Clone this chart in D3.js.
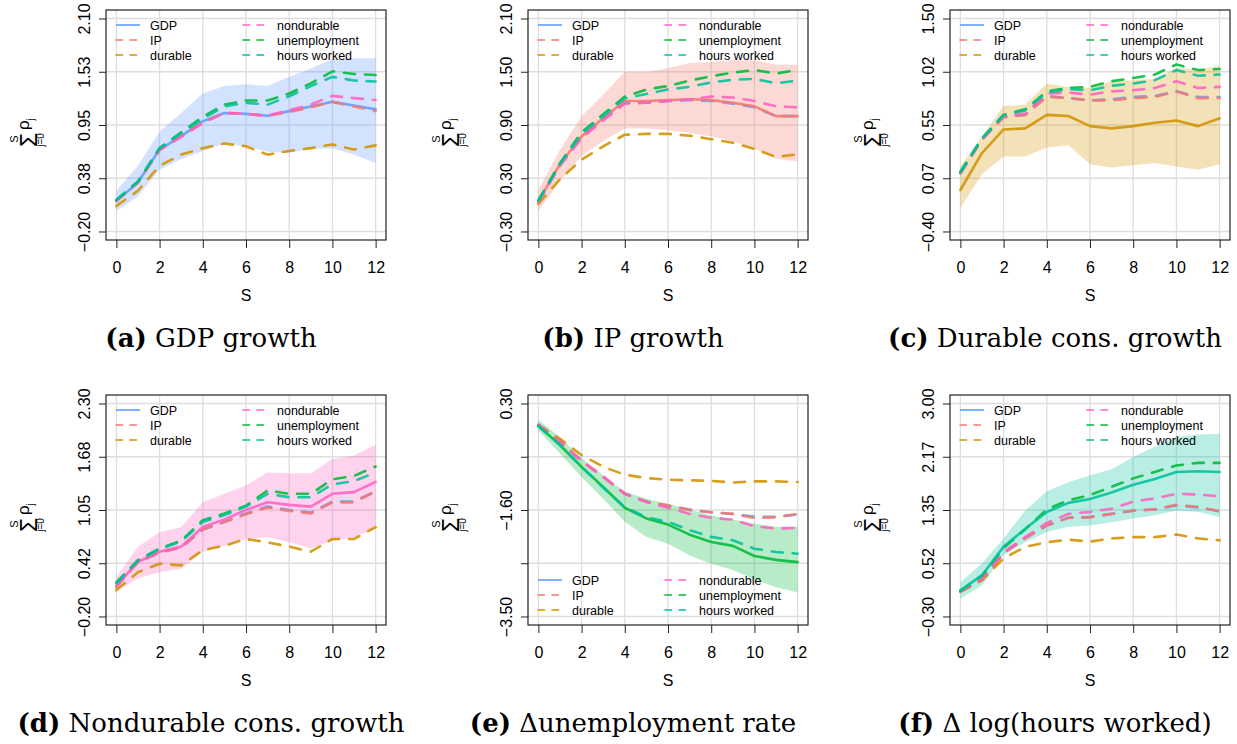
<!DOCTYPE html>
<meta charset="utf-8">
<style>
    body { margin: 0; background: #fff; }
    svg text { font-family: "Liberation Sans", Arial, sans-serif; fill: #000; }
    .caption { font-family: "DejaVu Serif", serif; font-size: 26px; }
    .tick line { stroke: #222; }
</style>
<body>
<script src="https://d3js.org/d3.v7.min.js"></script>
<script>
    // horizon s, shared by every panel
    const steps = [0, 1, 2, 3, 4, 5, 6, 7, 8, 9, 10, 11, 12]
    const xTicks = [0, 2, 4, 6, 8, 10, 12]

    const seriesNames = ["GDP", "IP", "durable", "nondurable", "unemployment", "hours worked"]
    const seriesColors = ["#619CFF", "#F8766D", "#D39200", "#FF61C3", "#00BA38", "#00C19A"]

    const panelLetters = ["a", "b", "c", "d", "e", "f"]
    const panelTitles = ["GDP growth", "IP growth", "Durable cons. growth",
        "Nondurable cons. growth", "\u0394unemployment rate", "\u0394 log(hours worked)"]

    const yTickValues = [
        [-0.20, 0.375, 0.95, 1.525, 2.10],
        [-0.30, 0.30, 0.90, 1.50, 2.10],
        [-0.40, 0.075, 0.55, 1.025, 1.50],
        [-0.20, 0.425, 1.05, 1.675, 2.30],
        [-3.50, -2.55, -1.60, -0.65, 0.30],
        [-0.30, 0.525, 1.35, 2.175, 3.00]
    ]
    const yTickLabels = [
        ["\u22120.20", "0.38", "0.95", "1.53", "2.10"],
        ["\u22120.30", "0.30", "0.90", "1.50", "2.10"],
        ["\u22120.40", "0.07", "0.55", "1.02", "1.50"],
        ["\u22120.20", "0.42", "1.05", "1.68", "2.30"],
        ["\u22123.50", "", "\u22121.60", "", "0.30"],
        ["\u22120.30", "0.52", "1.35", "2.17", "3.00"]
    ]

    // each panel: rows in seriesNames order
    const gdpLines = [
        [0.13, 0.33, 0.685, 0.83, 0.99, 1.08, 1.07, 1.05, 1.10, 1.15, 1.20, 1.16, 1.12],
        [0.13, 0.33, 0.68, 0.83, 0.98, 1.08, 1.07, 1.05, 1.09, 1.14, 1.20, 1.15, 1.10],
        [0.075, 0.24, 0.51, 0.63, 0.70, 0.75, 0.72, 0.63, 0.67, 0.70, 0.74, 0.685, 0.73],
        [0.13, 0.33, 0.68, 0.82, 0.97, 1.08, 1.07, 1.05, 1.11, 1.17, 1.265, 1.24, 1.22],
        [0.14, 0.34, 0.70, 0.87, 1.04, 1.17, 1.215, 1.215, 1.29, 1.40, 1.53, 1.50, 1.49],
        [0.14, 0.34, 0.70, 0.86, 1.02, 1.15, 1.19, 1.17, 1.26, 1.37, 1.47, 1.43, 1.42]
    ]
    const gdpHi = [0.24, 0.51, 0.88, 1.08, 1.29, 1.37, 1.39, 1.37, 1.47, 1.56, 1.66, 1.67, 1.67]
    const gdpLo = [0.02, 0.18, 0.47, 0.58, 0.67, 0.75, 0.72, 0.66, 0.65, 0.69, 0.70, 0.63, 0.54]

    const ipLines = [
        [0.04, 0.45, 0.76, 0.97, 1.15, 1.15, 1.17, 1.18, 1.17, 1.14, 1.10, 1.00, 1.00],
        [0.04, 0.46, 0.77, 0.98, 1.17, 1.17, 1.18, 1.19, 1.18, 1.15, 1.11, 1.00, 1.00],
        [0.01, 0.29, 0.51, 0.66, 0.79, 0.80, 0.80, 0.78, 0.74, 0.70, 0.63, 0.54, 0.57],
        [0.03, 0.44, 0.75, 0.95, 1.14, 1.15, 1.17, 1.19, 1.22, 1.21, 1.17, 1.11, 1.10],
        [0.05, 0.47, 0.82, 1.02, 1.22, 1.30, 1.34, 1.40, 1.45, 1.49, 1.52, 1.48, 1.52],
        [0.05, 0.46, 0.80, 1.00, 1.20, 1.25, 1.30, 1.33, 1.38, 1.41, 1.42, 1.37, 1.40]
    ]
    const ipHi = [0.17, 0.62, 1.00, 1.24, 1.50, 1.50, 1.54, 1.60, 1.61, 1.63, 1.63, 1.58, 1.58]
    const ipLo = [-0.07, 0.27, 0.55, 0.72, 0.86, 0.86, 0.84, 0.81, 0.77, 0.72, 0.63, 0.52, 0.49]

    const durLines = [
        [0.12, 0.42, 0.62, 0.64, 0.81, 0.79, 0.77, 0.78, 0.80, 0.81, 0.85, 0.80, 0.80],
        [0.12, 0.42, 0.62, 0.64, 0.80, 0.79, 0.77, 0.77, 0.79, 0.80, 0.85, 0.79, 0.79],
        [-0.03, 0.30, 0.51, 0.52, 0.64, 0.63, 0.54, 0.52, 0.54, 0.57, 0.59, 0.54, 0.61],
        [0.12, 0.42, 0.63, 0.65, 0.83, 0.84, 0.82, 0.85, 0.86, 0.88, 0.94, 0.88, 0.89],
        [0.13, 0.43, 0.64, 0.69, 0.85, 0.88, 0.89, 0.94, 0.97, 1.00, 1.09, 1.04, 1.05],
        [0.13, 0.43, 0.64, 0.68, 0.84, 0.87, 0.86, 0.90, 0.92, 0.95, 1.04, 0.99, 1.00]
    ]
    const durHi = [0.18, 0.45, 0.72, 0.73, 0.92, 0.89, 0.88, 0.94, 0.95, 0.96, 1.06, 1.04, 1.08]
    const durLo = [-0.19, 0.11, 0.27, 0.27, 0.35, 0.37, 0.20, 0.17, 0.19, 0.21, 0.18, 0.15, 0.20]

    const nondurLines = [
        [0.15, 0.44, 0.55, 0.61, 0.82, 0.91, 1.01, 1.09, 1.05, 1.02, 1.15, 1.15, 1.27],
        [0.15, 0.44, 0.55, 0.61, 0.82, 0.91, 1.00, 1.08, 1.04, 1.01, 1.14, 1.14, 1.27],
        [0.11, 0.32, 0.42, 0.40, 0.58, 0.63, 0.71, 0.67, 0.62, 0.56, 0.71, 0.71, 0.85],
        [0.16, 0.44, 0.56, 0.62, 0.85, 0.94, 1.05, 1.14, 1.11, 1.09, 1.24, 1.26, 1.38],
        [0.20, 0.46, 0.60, 0.69, 0.93, 1.01, 1.10, 1.28, 1.24, 1.24, 1.41, 1.45, 1.56],
        [0.19, 0.46, 0.59, 0.68, 0.91, 0.99, 1.09, 1.24, 1.20, 1.20, 1.35, 1.39, 1.49]
    ]
    const nondurHi = [0.26, 0.62, 0.79, 0.85, 1.14, 1.24, 1.34, 1.49, 1.48, 1.48, 1.65, 1.69, 1.82]
    const nondurLo = [0.09, 0.25, 0.32, 0.36, 0.56, 0.63, 0.71, 0.73, 0.67, 0.60, 0.69, 0.73, 0.83]

    const unempLines = [
        [-0.08, -0.38, -0.73, -1.01, -1.31, -1.45, -1.52, -1.59, -1.64, -1.67, -1.72, -1.72, -1.68],
        [-0.08, -0.38, -0.73, -1.01, -1.31, -1.45, -1.52, -1.60, -1.64, -1.67, -1.74, -1.73, -1.67],
        [-0.08, -0.33, -0.62, -0.83, -0.97, -1.03, -1.06, -1.07, -1.08, -1.11, -1.09, -1.09, -1.10],
        [-0.08, -0.38, -0.72, -1.00, -1.31, -1.46, -1.56, -1.67, -1.74, -1.77, -1.89, -1.93, -1.92],
        [-0.10, -0.44, -0.83, -1.19, -1.56, -1.75, -1.86, -2.04, -2.17, -2.24, -2.42, -2.49, -2.53],
        [-0.10, -0.44, -0.83, -1.20, -1.55, -1.73, -1.81, -1.96, -2.08, -2.14, -2.29, -2.35, -2.38]
    ]
    const unempHi = [0.01, -0.30, -0.67, -0.98, -1.27, -1.40, -1.49, -1.59, -1.70, -1.77, -1.84, -1.90, -1.90]
    const unempLo = [-0.18, -0.59, -1.01, -1.40, -1.81, -2.08, -2.20, -2.41, -2.56, -2.67, -2.84, -2.98, -3.07]

    const hoursLines = [
        [0.09, 0.27, 0.68, 0.91, 1.11, 1.23, 1.24, 1.29, 1.34, 1.36, 1.42, 1.39, 1.33],
        [0.09, 0.27, 0.68, 0.91, 1.11, 1.23, 1.24, 1.29, 1.34, 1.36, 1.43, 1.40, 1.33],
        [0.08, 0.26, 0.60, 0.78, 0.85, 0.89, 0.86, 0.91, 0.93, 0.93, 0.97, 0.91, 0.88],
        [0.09, 0.28, 0.70, 0.93, 1.15, 1.29, 1.32, 1.37, 1.48, 1.53, 1.60, 1.59, 1.56],
        [0.10, 0.33, 0.76, 1.05, 1.36, 1.50, 1.58, 1.71, 1.84, 1.94, 2.04, 2.08, 2.08],
        [0.10, 0.34, 0.78, 1.06, 1.32, 1.46, 1.52, 1.62, 1.74, 1.83, 1.94, 1.95, 1.94]
    ]
    const hoursHi = [0.23, 0.52, 0.91, 1.34, 1.64, 1.78, 1.89, 1.98, 2.17, 2.33, 2.48, 2.52, 2.53]
    const hoursLo = [-0.02, 0.18, 0.65, 0.85, 1.01, 1.09, 1.11, 1.16, 1.22, 1.27, 1.34, 1.32, 1.24]

    const panelLines = [gdpLines, ipLines, durLines, nondurLines, unempLines, hoursLines]
    const panelHi = [gdpHi, ipHi, durHi, nondurHi, unempHi, hoursHi]
    const panelLo = [gdpLo, ipLo, durLo, nondurLo, unempLo, hoursLo]

    const width = 1237, height = 744
    const colStep = 422, rowStep = 385
    const box = {left: 106, right: 386, top: 10, bottom: 240}

    const svg = d3.select("body").append("svg")
        .attr("width", width)
        .attr("height", height)

    const x = d3.scaleLinear()
        .domain([-0.48, 12.48])
        .range([box.left, box.right])

    panelTitles.forEach((title, p) => {
        const col = p % 3, row = Math.floor(p / 3)
        const g = svg.append("g")
            .attr("transform", `translate(${col * colStep},${row * rowStep})`)

        const ticks = yTickValues[p]
        const lo = ticks[0], hi = ticks[ticks.length - 1], pad = (hi - lo) * 0.04
        const y = d3.scaleLinear()
            .domain([lo - pad, hi + pad])
            .range([box.bottom, box.top])

        // grid
        g.selectAll(".hgrid").data(ticks).enter().append("line")
            .attr("x1", box.left).attr("x2", box.right)
            .attr("y1", d => y(d)).attr("y2", d => y(d))
            .attr("stroke", "#dedede").attr("stroke-width", 1.3)
        g.selectAll(".vgrid").data(xTicks).enter().append("line")
            .attr("x1", d => x(d)).attr("x2", d => x(d))
            .attr("y1", box.top).attr("y2", box.bottom)
            .attr("stroke", "#dedede").attr("stroke-width", 1.3)

        // confidence band around the own series
        const band = d3.area()
            .x((d, i) => x(steps[i]))
            .y0((d, i) => y(panelLo[p][i]))
            .y1(d => y(d))
        g.append("path")
            .datum(panelHi[p])
            .attr("d", band)
            .attr("fill", seriesColors[p])
            .attr("fill-opacity", 0.28)

        const line = d3.line()
            .x((d, i) => x(steps[i]))
            .y(d => y(d))

        panelLines[p].forEach((vals, k) => {
            g.append("path")
                .datum(vals)
                .attr("d", line)
                .attr("fill", "none")
                .attr("stroke", seriesColors[k])
                .attr("stroke-width", 2.6)
                .attr("stroke-opacity", 0.88)
                .attr("stroke-linecap", "round")
                .attr("stroke-linejoin", "round")
                .attr("stroke-dasharray", k === p ? null : "11,10")
        })

        // box
        g.append("rect")
            .attr("x", box.left).attr("y", box.top)
            .attr("width", box.right - box.left).attr("height", box.bottom - box.top)
            .attr("fill", "none").attr("stroke", "#222").attr("stroke-width", 1.2)

        // axes
        const gx = g.append("g")
            .attr("transform", `translate(0,${box.bottom})`)
            .call(d3.axisBottom(x).tickValues(xTicks).tickSize(8).tickPadding(14))
        gx.select(".domain").remove()
        gx.selectAll("text").attr("font-size", 16).attr("font-family", "Liberation Sans, Arial, sans-serif")

        const gy = g.append("g")
            .attr("transform", `translate(${box.left},0)`)
            .call(d3.axisLeft(y).tickValues(ticks).tickFormat((d, j) => yTickLabels[p][j]).tickSize(7))
        gy.select(".domain").remove()
        gy.selectAll("text")
            .attr("transform", "rotate(-90)")
            .attr("x", 0).attr("y", -16).attr("dy", 0)
            .attr("text-anchor", "middle")
            .attr("font-size", 16)
            .attr("font-family", "Liberation Sans, Arial, sans-serif")

        // x title
        g.append("text")
            .attr("x", (box.left + box.right) / 2).attr("y", 301)
            .attr("text-anchor", "middle")
            .attr("font-size", 16)
            .text("S")

        // y title: sum_{j=0}^{S} rho_j
        const yl = g.append("g").attr("transform", "translate(28,131) rotate(-90)")
        yl.append("text").attr("x", -9).attr("y", 8.5).attr("text-anchor", "middle")
            .attr("font-size", 23).text("\u03A3")
        yl.append("text").attr("x", -8).attr("y", -10).attr("text-anchor", "middle")
            .attr("font-size", 11).text("S")
        yl.append("text").attr("x", -9).attr("y", 15.5).attr("text-anchor", "middle")
            .attr("font-size", 10).text("j=0")
        yl.append("text").attr("x", 1).attr("y", 1).attr("font-size", 17).text("\u03C1")
        yl.append("text").attr("x", 10.5).attr("y", 5.5).attr("font-size", 10.5).text("j")

        // legend
        const legTop = p === 4 ? 195 : 25
        seriesNames.forEach((name, k) => {
            const lc = Math.floor(k / 3), lr = k % 3
            const lx = lc === 0 ? 116 : 243
            const ly = legTop + lr * 15
            g.append("line")
                .attr("x1", lx).attr("x2", lx + 24)
                .attr("y1", ly).attr("y2", ly)
                .attr("stroke", seriesColors[k])
                .attr("stroke-width", 1.6)
                .attr("stroke-dasharray", k === 0 ? null : "6.5,7.5")
                .attr("stroke-linecap", k === 0 ? "butt" : "round")
            g.append("text")
                .attr("x", lx + 34).attr("y", ly + 4.5)
                .attr("font-size", 12.5)
                .text(name)
        })

        // caption
        const cap = g.append("text")
            .attr("class", "caption")
            .attr("x", 211).attr("y", 347)
            .attr("text-anchor", "middle")
        cap.append("tspan").attr("font-weight", "bold").text(`(${panelLetters[p]})`)
        cap.append("tspan").text(" " + title)
    })
</script>
